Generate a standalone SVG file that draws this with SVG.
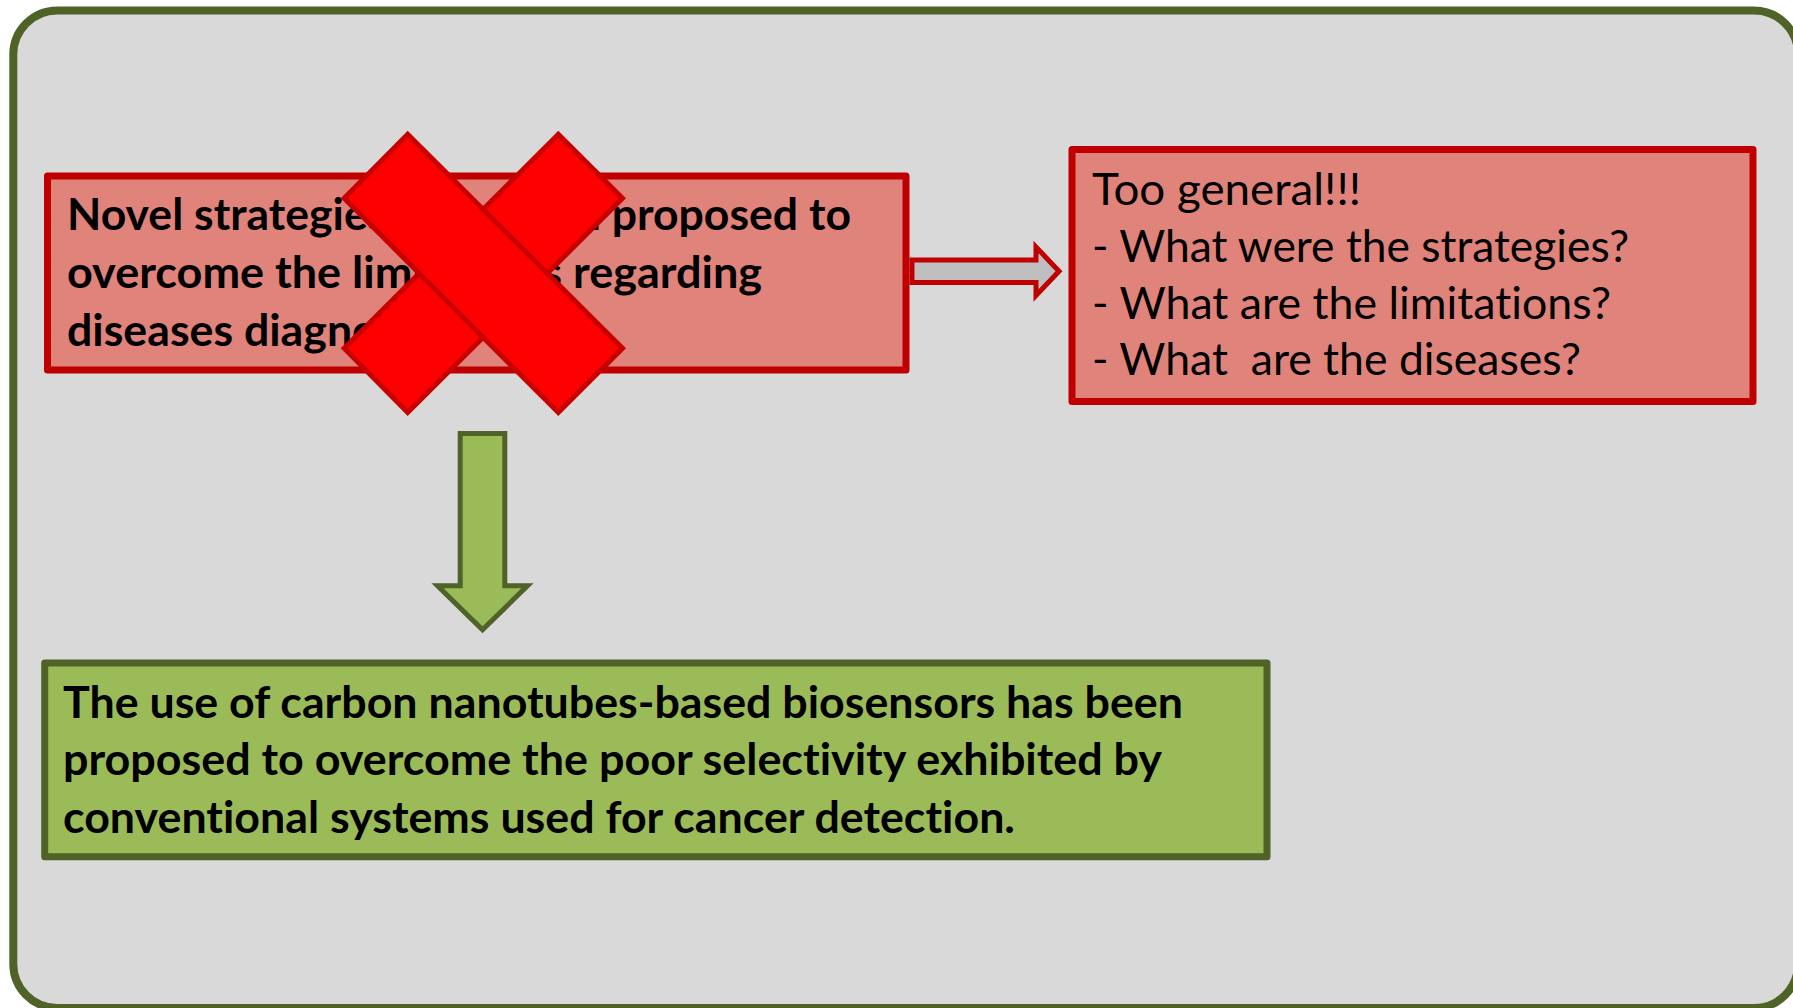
<svg xmlns="http://www.w3.org/2000/svg" width="1793" height="1008" viewBox="0 0 1793 1008">
<defs>
<style>
.frame{fill:#D9D9D9;stroke:#4F6228;stroke-width:8}
.redbox{fill:#E0837A;stroke:#C00000;stroke-width:7;stroke-linejoin:round}
.greenbox{fill:#9BBB59;stroke:#4F6228;stroke-width:7;stroke-linejoin:round}
.redarrow{fill:#BFBFBF;stroke:#C00000;stroke-width:5;stroke-linejoin:miter}
.greenarrow{fill:#9BBB59;stroke:#4F6228;stroke-width:5;stroke-linejoin:miter}
.xbar{fill:#FF0000;stroke:#C80000;stroke-width:5;stroke-linejoin:miter}
.tb{font-family:Lato,"Liberation Sans",sans-serif;font-weight:700;font-size:44px;fill:#000;font-variant-ligatures:none}
.tr{font-family:Lato,"Liberation Sans",sans-serif;font-weight:400;font-size:44px;fill:#000;white-space:pre;font-variant-ligatures:none}
</style>
</defs>
<rect class="frame" x="13.3" y="10.5" width="1784.7" height="997.5" rx="44" ry="44"/>
<g id="connectors">
<polygon class="redarrow" points="912,260 1036,260 1036,247 1059,271.2 1036,295.5 1036,282.5 912,282.5"/>
<polygon class="greenarrow" points="460.2,433.5 504.8,433.5 504.8,585.8 527.5,585.8 482.5,629.8 437.5,585.8 460.2,585.8"/>
</g>
<g id="node-original">
<rect class="redbox" x="47.5" y="176" width="858.5" height="194"/>
<text class="tb" x="67" y="230" textLength="784" lengthAdjust="spacingAndGlyphs">Novel strategies have been proposed to</text>
<text class="tb" x="67" y="288" textLength="695" lengthAdjust="spacingAndGlyphs">overcome the limitations regarding</text>
<text class="tb" x="67" y="345.5" textLength="372" lengthAdjust="spacingAndGlyphs">diseases diagnosis.</text>
</g>
<g id="node-cross">
<polygon class="xbar" points="558.3,134.2 622.5,198.3 407.7,412.5 344.2,348.3"/>
<polygon class="xbar" points="407.7,134.2 622.5,348.3 558.3,412.5 344.2,198.3"/>
</g>
<g id="node-critique">
<rect class="redbox" x="1072" y="149.5" width="681" height="252"/>
<text class="tr" x="1092" y="205" textLength="269" lengthAdjust="spacingAndGlyphs">Too general!!!</text>
<text class="tr" x="1092" y="262.2" textLength="537" lengthAdjust="spacingAndGlyphs">- What were the strategies?</text>
<text class="tr" x="1092" y="319" textLength="519" lengthAdjust="spacingAndGlyphs">- What are the limitations?</text>
<text class="tr" x="1092" y="375" textLength="489" lengthAdjust="spacingAndGlyphs" xml:space="preserve">- What  are the diseases?</text>
</g>
<g id="node-revised">
<rect class="greenbox" x="44.7" y="663" width="1222.3" height="193.7"/>
<text class="tb" x="63" y="718" textLength="1120" lengthAdjust="spacingAndGlyphs">The use of carbon nanotubes-based biosensors has been</text>
<text class="tb" x="63" y="775.3" textLength="1099" lengthAdjust="spacingAndGlyphs">proposed to overcome the poor selectivity exhibited by</text>
<text class="tb" x="63" y="832.6" textLength="952" lengthAdjust="spacingAndGlyphs">conventional systems used for cancer detection.</text>
</g>
</svg>
